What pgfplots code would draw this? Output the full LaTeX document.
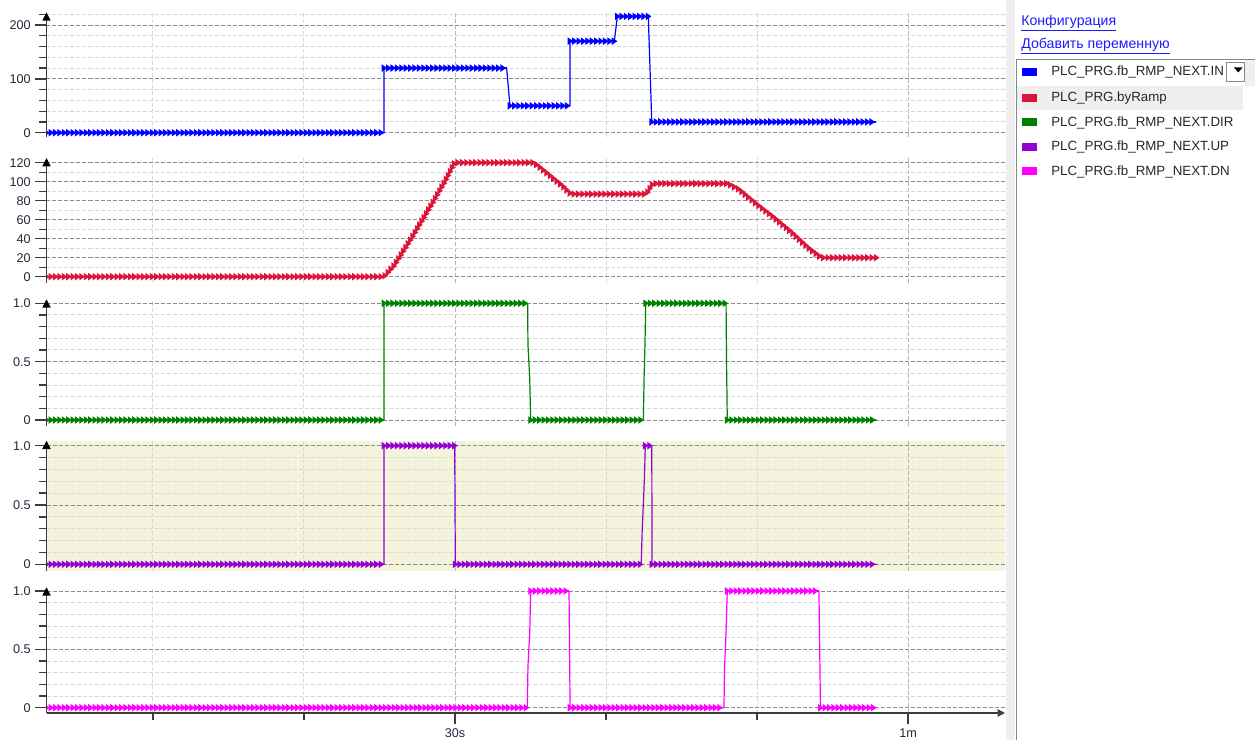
\documentclass[border=0pt]{standalone}
\usepackage{fontspec}
\setmainfont{Liberation Sans}
\usepackage{pgfplots}
\pgfplotsset{compat=1.18}
\usetikzlibrary{arrows.meta,decorations.markings}

\definecolor{axc}{HTML}{3C3C3C}
\definecolor{gdark}{HTML}{8C8C8C}
\definecolor{gmid}{HTML}{B4B4B4}
\definecolor{glight}{HTML}{D9D9D9}
\definecolor{lab}{HTML}{1E2A3A}
\definecolor{bl}{HTML}{0000FF}
\definecolor{rd}{HTML}{DC143C}
\definecolor{gr}{HTML}{008000}
\definecolor{pu}{HTML}{9400D3}
\definecolor{mg}{HTML}{FF00FF}
\definecolor{beige}{HTML}{F4F4DC}
\definecolor{strip}{HTML}{EFEFEF}
\definecolor{boxc}{HTML}{828790}
\definecolor{hl}{HTML}{EFEFEF}
\definecolor{link}{HTML}{1A1AFF}

% small right-pointing triangles along a plotted line
\tikzset{beads/.style={postaction={decorate}, decoration={markings,
  mark=between positions 0 and 1 step 3.3pt with {\pgftransformresetnontranslations
    \fill[#1] (1.7pt,0pt) -- (-1.3pt,2pt) -- (-1.3pt,-2pt) -- cycle;}}}}

\pgfplotsset{
  panel/.style={
    scale only axis, width=718.875pt, anchor=south west,
    xmin=2.95, xmax=66.42,
    axis lines=left,
    axis line style={draw=axc, line width=1.1pt},
    xtick={30,60}, minor xtick={10,20,40,50},
    grid=both,
    major x grid style={gmid, dash pattern=on 3pt off 1.5pt, line width=0.75pt},
    minor x grid style={glight, dash pattern=on 3pt off 1.5pt, line width=0.75pt},
    major y grid style={gdark, dash pattern=on 3pt off 1.5pt, line width=0.75pt},
    minor y grid style={glight, dash pattern=on 3pt off 1.5pt, line width=0.75pt},
    tick align=outside,
    major tick length=8.25pt, minor tick length=5.25pt,
    tick style={draw=axc, line width=1pt},
    ticklabel style={font=\fontsize{9.5}{11}\selectfont, text=lab},
  },
  hidex/.style={x axis line style={draw=none}, xtick style={draw=none},
    xticklabels={\relax,\relax}, xticklabel style={text opacity=0}},
  sig/.style={#1, line width=0.9pt},
}

\begin{document}
\begin{tikzpicture}
\begin{scope}[x=0.75pt,y=-0.75pt]
\path[use as bounding box] (0,0) rectangle (1255,740);
\fill[strip] (1006,0) rectangle (1015,740);
\fill[strip] (1245,60) rectangle (1255,86);
\fill[hl] (1017,86) rectangle (1243,110);
\draw[boxc, line width=0.75pt] (1016,740) -- (1016,60) -- (1255,60);
\draw[boxc, fill=white, line width=0.75pt] (1226.7,62.3) rectangle (1244.3,81.7);
\fill[black] (1234,67.5) -- (1242.5,67.5) -- (1238.2,72.5) -- cycle;
\node[anchor=west, inner sep=0pt, text=link, font=\fontsize{10.6}{12}\selectfont] at (1021,23.5) {\underline{Конфигурация}};
\node[anchor=west, inner sep=0pt, text=link, font=\fontsize{10.6}{12}\selectfont] at (1021,46) {\underline{Добавить переменную}};
\foreach \c/\y/\t in {bl/72/PLC\_PRG.fb\_RMP\_NEXT.IN, rd/98/PLC\_PRG.byRamp, gr/122.5/PLC\_PRG.fb\_RMP\_NEXT.DIR, pu/147/PLC\_PRG.fb\_RMP\_NEXT.UP, mg/171.5/PLC\_PRG.fb\_RMP\_NEXT.DN}{
  \fill[\c] (1021.7,\y-4) rectangle (1037,\y+4);
  \node[anchor=west, inner sep=0pt, text=black!85, font=\fontsize{10}{12}\selectfont] at (1051,\y) {\t};
}
\end{scope}

% IN
\begin{axis}[panel, hidex, at={(34.875pt,-103.125pt)}, height=93.6pt,
  ymin=-8.9, ymax=222.9, ytick={0,100,200}, yticklabels={0,100,200},
  minor ytick={20,40,60,80,120,140,160,180,220}]
\addplot[sig=bl] coordinates {(2.95,0)(25.30,0)(25.30,120)(33.42,120)(33.64,50)(37.62,50)(37.62,170)(40.55,170)(40.75,216)(42.80,216)(43.03,20)(57.88,20)};
\addplot[sig=bl, beads=bl] coordinates {(2.95,0)(25.30,0)};
\addplot[sig=bl, beads=bl] coordinates {(25.30,120)(33.42,120)};
\addplot[sig=bl, beads=bl] coordinates {(33.64,50)(37.62,50)};
\addplot[sig=bl, beads=bl] coordinates {(37.62,170)(40.55,170)};
\addplot[sig=bl, beads=bl] coordinates {(40.75,216)(42.80,216)};
\addplot[sig=bl, beads=bl] coordinates {(43.03,20)(57.88,20)};
\end{axis}

% byRamp
\begin{axis}[panel, hidex, at={(34.875pt,-211.875pt)}, height=93.15pt,
  ymin=-6.1, ymax=124.6, ytick={0,20,...,120}, yticklabels={0,20,40,60,80,100,120},
  minor ytick={10,30,50,70,90,110}]
\addplot[sig=rd, beads=rd] coordinates {(2.95,0)(25.30,0)(25.99,12)(27.14,41)(28.50,77)(29.40,102)(29.98,120)(35.23,120)(35.79,113)(36.48,104)(37.17,95)(37.66,87)(42.68,87)(43.09,98)(48.07,98)(48.80,92)(49.93,77)(51.07,63)(52.20,48)(53.36,31)(54.27,20)(57.91,20)};
\end{axis}

% DIR
\begin{axis}[panel, hidex, at={(34.875pt,-319.125pt)}, height=94.5pt,
  ymin=-0.047, ymax=1.0326, ytick={0,0.5,1}, yticklabels={0,0.5,1.0},
  minor ytick={0.1,0.2,0.3,0.4,0.6,0.7,0.8,0.9}]
\addplot[sig=gr] coordinates {(2.95,0)(25.30,0)(25.30,1)(34.81,1)(34.83,0.65)(34.95,0.35)(35.01,0)(42.47,0)(42.52,0.35)(42.58,0.65)(42.63,1)(47.95,1)(47.98,0.5)(48.03,0)(57.90,0)};
\addplot[sig=gr, beads=gr] coordinates {(2.95,0)(25.30,0)};
\addplot[sig=gr, beads=gr] coordinates {(25.30,1)(34.81,1)};
\addplot[sig=gr, beads=gr] coordinates {(35.01,0)(42.47,0)};
\addplot[sig=gr, beads=gr] coordinates {(42.63,1)(47.95,1)};
\addplot[sig=gr, beads=gr] coordinates {(48.03,0)(57.90,0)};
\end{axis}

% UP
\begin{axis}[panel, hidex, at={(34.875pt,-428.25pt)}, height=97.5pt,
  axis background/.style={fill=beige},
  ymin=-0.0565, ymax=1.0396, ytick={0,0.5,1}, yticklabels={0,0.5,1.0},
  minor ytick={0.1,0.2,0.3,0.4,0.6,0.7,0.8,0.9}]
\addplot[sig=pu] coordinates {(2.95,0)(25.30,0)(25.30,1)(29.98,1)(30.02,0)(42.33,0)(42.40,0.3)(42.47,0.5)(42.55,0.75)(42.60,1)(43.03,1)(43.05,0)(57.90,0)};
\addplot[sig=pu, beads=pu] coordinates {(2.95,0)(25.30,0)};
\addplot[sig=pu, beads=pu] coordinates {(25.30,1)(29.98,1)};
\addplot[sig=pu, beads=pu] coordinates {(30.02,0)(42.33,0)};
\addplot[sig=pu, beads=pu] coordinates {(42.60,1)(43.03,1)};
\addplot[sig=pu, beads=pu] coordinates {(43.05,0)(57.90,0)};
\end{axis}

% DN
\begin{axis}[panel, at={(34.875pt,-534.75pt)}, height=94.125pt,
  x axis line style={-{Triangle[width=5.5pt,length=5.5pt]}},
  xticklabels={30s,1m},
  ymin=-0.0454, ymax=1.030, ytick={0,0.5,1}, yticklabels={0,0.5,1.0},
  minor ytick={0.1,0.2,0.3,0.4,0.6,0.7,0.8,0.9}]
\addplot[sig=mg] coordinates {(2.95,0)(34.79,0)(34.83,0.35)(34.95,0.65)(35.01,1)(37.55,1)(37.62,0)(47.81,0)(47.85,0.35)(47.95,0.65)(48.03,1)(54.10,1)(54.20,0)(57.90,0)};
\addplot[sig=mg, beads=mg] coordinates {(2.95,0)(34.79,0)};
\addplot[sig=mg, beads=mg] coordinates {(35.01,1)(37.55,1)};
\addplot[sig=mg, beads=mg] coordinates {(37.62,0)(47.81,0)};
\addplot[sig=mg, beads=mg] coordinates {(48.03,1)(54.10,1)};
\addplot[sig=mg, beads=mg] coordinates {(54.20,0)(57.90,0)};
\end{axis}

% y axis lines with arrow heads
\begin{scope}[x=0.75pt,y=-0.75pt]
\foreach \b/\t in {137.5/12.7, 282.5/158.3, 425.5/299.5, 571/441, 713/587.5}{
  \draw[axc, line width=1.3pt] (46.5,\b) -- (46.5,\t+6);
  \fill[black] (42.3,\t+8) -- (50.7,\t+8) -- (46.5,\t) -- cycle;
}
\end{scope}
\end{tikzpicture}
\end{document}
